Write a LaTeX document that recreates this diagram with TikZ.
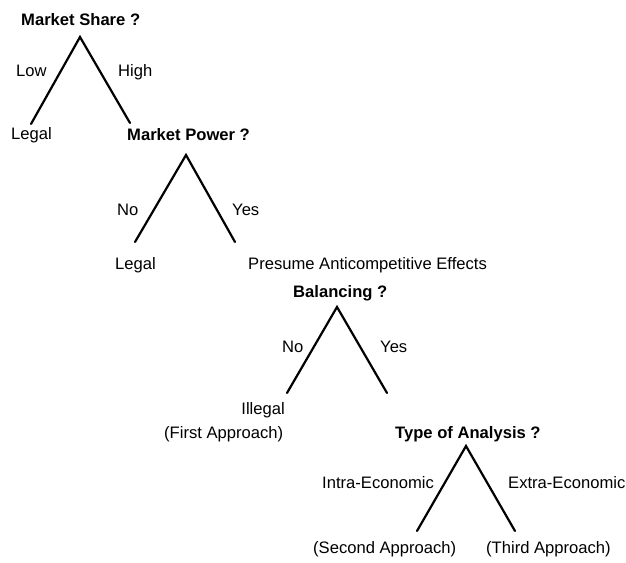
\documentclass[tikz,border=0pt]{standalone}
\usepackage{fontspec}
\setmainfont{Liberation Sans}
\begin{document}
\begin{tikzpicture}[x=1pt,y=-1pt,
  lbl/.style={inner sep=0pt,font=\fontsize{16.6}{19}\selectfont,anchor=base west},
  qst/.style={lbl,font=\fontsize{16.6}{19}\selectfont\bfseries},
  leg/.style={line width=2.2pt,line cap=round,line join=miter}]
\useasboundingbox (0,0) rectangle (626,562);
% tree 1
\node[qst] (q1) at (21,25) {Market Share ?};
\node[lbl] (low) at (16,76) {Low};
\node[lbl] (high) at (118,76) {High};
\node[lbl] (legal1) at (11,139) {Legal};
\node[qst] (q2) at (127,140) {Market Power ?};
\coordinate (a1) at (80,37);
\coordinate (l1) at (31,124);
\coordinate (r1) at (130,123);
\draw[leg] (l1) -- (a1) -- (r1);
% tree 2
\node[lbl] (no2) at (117,215) {No};
\node[lbl] (yes2) at (232,215) {Yes};
\node[lbl] (legal2) at (115,269) {Legal};
\node[lbl] (pres) at (248,269) {Presume Anticompetitive Effects};
\coordinate (a2) at (186,155);
\coordinate (l2) at (135,242);
\coordinate (r2) at (235,242);
\draw[leg] (l2) -- (a2) -- (r2);
% tree 3
\node[qst] (q3) at (293,297) {Balancing ?};
\node[lbl] (no3) at (282,352) {No};
\node[lbl] (yes3) at (380,352) {Yes};
\node[lbl,anchor=base east] (illegal) at (285,414) {Illegal};
\node[lbl] (first) at (164,438) {(First Approach)};
\coordinate (a3) at (337,307);
\coordinate (l3) at (287,393);
\coordinate (r3) at (387,393);
\draw[leg] (l3) -- (a3) -- (r3);
% tree 4
\node[qst] (q4) at (395,438) {Type of Analysis ?};
\node[lbl] (intra) at (322,488) {Intra-Economic};
\node[lbl] (extra) at (508,488) {Extra-Economic};
\node[lbl] (second) at (313,553) {(Second Approach)};
\node[lbl] (third) at (486,553) {(Third Approach)};
\coordinate (a4) at (466,446);
\coordinate (l4) at (417,531);
\coordinate (r4) at (515,531);
\draw[leg] (l4) -- (a4) -- (r4);
\end{tikzpicture}
\end{document}
